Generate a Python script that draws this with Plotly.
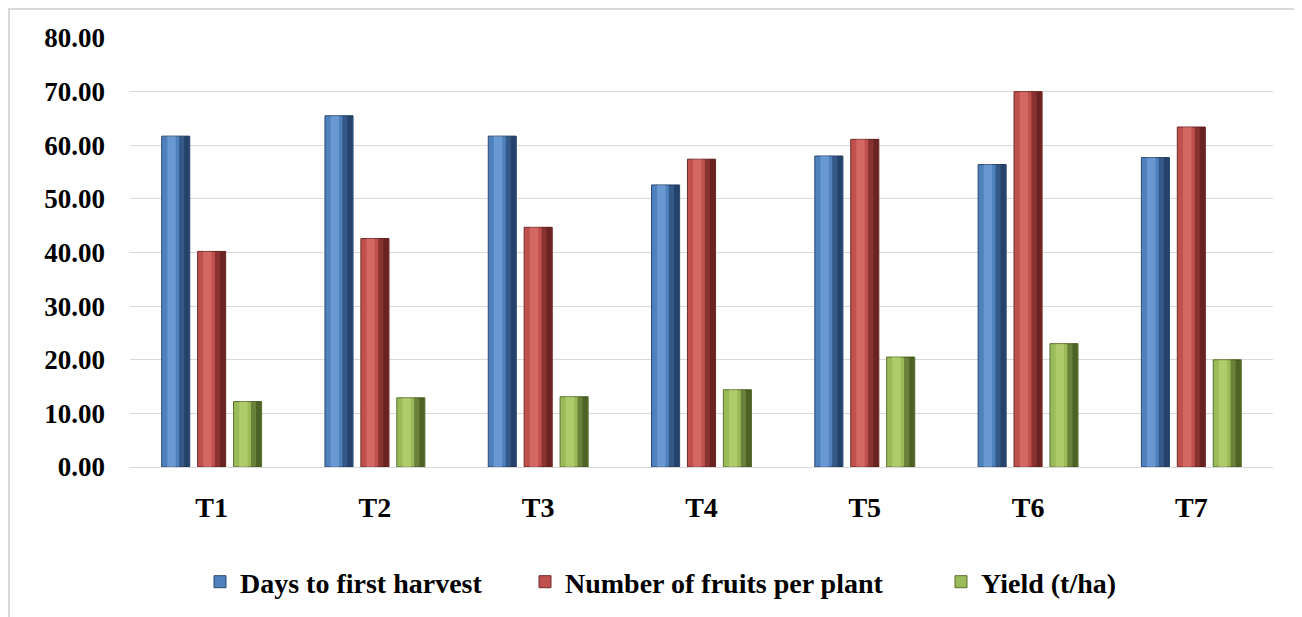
import plotly.graph_objects as go

categories = ["T1", "T2", "T3", "T4", "T5", "T6", "T7"]
days_to_first_harvest = [61.7, 65.5, 61.7, 52.6, 58.0, 56.4, 57.7]
fruits_per_plant = [40.2, 42.6, 44.7, 57.4, 61.1, 70.0, 63.4]
yield_t_ha = [12.2, 12.9, 13.1, 14.4, 20.5, 23.0, 20.0]

series_names = ["Days to first harvest", "Number of fruits per plant", "Yield (t/ha)"]
y_ticks = [0, 10, 20, 30, 40, 50, 60, 70, 80]

colors = ["#4f81bd", "#c0504d", "#9bbb59"]
light_colors = ["rgba(140,180,230,0.45)", "rgba(235,130,125,0.45)", "rgba(200,225,130,0.45)"]
dark_colors = ["rgba(20,40,70,0.45)", "rgba(70,15,15,0.45)", "rgba(45,60,15,0.45)"]
edge_colors = ["#2b4a70", "#6e2b2a", "#5a6e30"]
legend_widths = [280, 371, 130]

# page has an 8px body margin
W, H = 1294, 609
L, R, T, B = 122, 29, 30, 150
pw, ph = W - L - R, H - T - B

serif = "Liberation Serif"

bar_w = 0.172
centers = [-0.22, 0.0, 0.22]

fig = go.Figure()
series = [days_to_first_harvest, fruits_per_plant, yield_t_ha]
for name, vals, c, lc, dc, ec, lw, cx in zip(series_names, series, colors, light_colors,
                                             dark_colors, edge_colors, legend_widths, centers):
    fig.add_trace(go.Bar(
        x=categories, y=vals, name=name,
        offset=cx - bar_w / 2, width=bar_w,
        marker=dict(color=c, line=dict(color=ec, width=1)),
        legendwidth=lw,
    ))
    # cylinder-like shading strips drawn from the same values
    fig.add_trace(go.Bar(
        x=categories, y=vals, showlegend=False, hoverinfo="skip",
        offset=cx - bar_w * 0.30, width=bar_w * 0.30,
        marker=dict(color=lc, line=dict(width=0)),
    ))
    fig.add_trace(go.Bar(
        x=categories, y=vals, showlegend=False, hoverinfo="skip",
        offset=cx + bar_w * 0.12, width=bar_w * 0.38 - 0.003,
        marker=dict(color=dc, line=dict(width=0)),
    ))
    fig.add_trace(go.Bar(
        x=categories, y=vals, showlegend=False, hoverinfo="skip",
        offset=cx + bar_w * 0.30, width=bar_w * 0.20 - 0.003,
        marker=dict(color=dc, line=dict(width=0)),
    ))

fig.update_layout(
    width=W, height=H,
    margin=dict(l=L, r=R, t=T, b=B, autoexpand=False),
    paper_bgcolor="white", plot_bgcolor="white",
    barmode="overlay",
    font=dict(family=serif, color="black", weight="bold"),
    showlegend=True,
    legend=dict(
        orientation="h", x=(200 - 130) / pw, xanchor="left",
        y=(467 - 582) / ph, yanchor="middle",
        font=dict(size=28),
        bgcolor="rgba(0,0,0,0)", itemclick=False, itemdoubleclick=False,
    ),
    xaxis=dict(
        showgrid=False, showline=False, zeroline=False,
        tickfont=dict(size=28),
        ticks="", ticklabelstandoff=21,
    ),
    yaxis=dict(
        range=[0, 80], tickvals=y_ticks,
        ticktext=[f"{v:.2f}" for v in y_ticks],
        showgrid=True, gridcolor="#d9d9d9", gridwidth=1,
        zeroline=True, zerolinecolor="#d9d9d9", zerolinewidth=1,
        showline=False, ticks="",
        tickfont=dict(size=27),
        ticklabelstandoff=24,
    ),
    shapes=[dict(
        type="rect", xref="paper", yref="paper",
        x0=(1 - L) / pw, x1=(W - 3 - L) / pw,
        y0=-(B + 30) / ph, y1=(H - B - 1) / ph,
        line=dict(color="#d9d9d9", width=2), fillcolor="rgba(0,0,0,0)", layer="below",
    )],
)

fig.write_html("out.html")
